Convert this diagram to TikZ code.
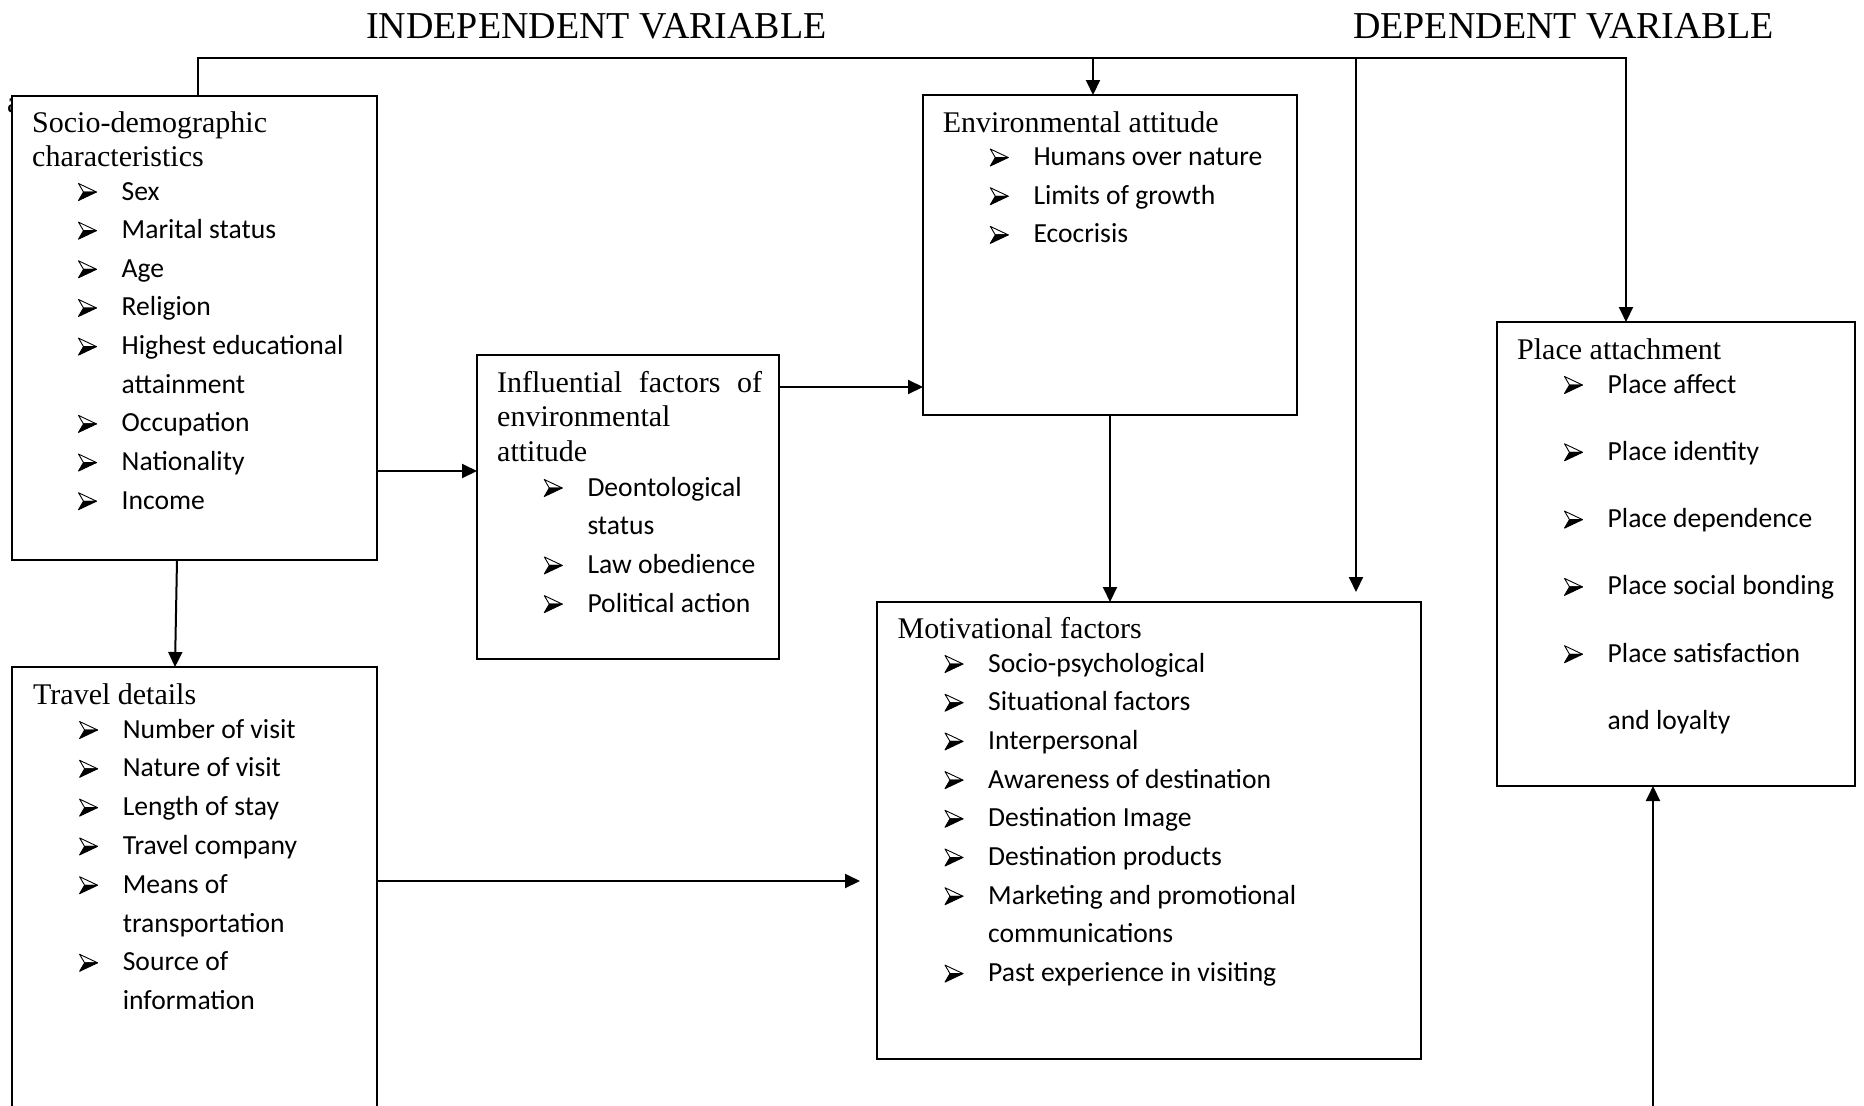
\documentclass[tikz,border=0pt]{standalone}
\usepackage{fontspec}
\setmainfont{Liberation Serif}
\newfontfamily\itemfamily{Carlito}
\usetikzlibrary{arrows.meta,calc}

% type sizes (1pt = one unit of the drawing grid)
\newcommand\titlefont{\fontsize{38}{42}\selectfont}
\newcommand\headfont{\fontsize{30}{34.5}\selectfont}
\newcommand\itemfont{\itemfamily\fontsize{27.6}{38.7}\selectfont}

\tikzset{
  box/.style={draw, line width=2pt, fill=white, rectangle, inner sep=0pt,
              outer sep=0pt, anchor=north west},
  conn/.style={line width=2pt},
  arr/.style={conn, -{Triangle[length=15pt,width=14pt]}},
  ttl/.style={anchor=base west, inner sep=0pt, font=\titlefont},
  head/.style={anchor=base west, inner sep=0pt, font=\headfont},
  itm/.style={anchor=base west, inner sep=0pt, font=\itemfont},
  % three-d arrowhead bullet, origin at its lower left on the baseline
  arrowbullet/.pic={
    \filldraw[fill=white, draw=black, line width=0.9pt, line join=round]
      (0,-17) -- (18,-8.5) -- (5,-8.5) -- cycle;
    \filldraw[black, line width=0.9pt, line join=round]
      (5,-8.5) -- (18,-8.5) -- (0,0) -- cycle;
  },
}

% a column of list lines: name, bullet x, first baseline, line step,
% lines given as b/text (with bullet) or c/text (continued line)
\newcommand\itemcolumn[5]{%
  \foreach [count=\k] \kind/\entry in {#5}{%
    \node[itm] (#1-\k) at ({#2+43},{#3+(\k-1)*#4}) {\entry};
    \if\kind b
      \pic at (#2,{#3+(\k-1)*#4+0.5}) {arrowbullet};
    \fi
  }}

\begin{document}
\begin{tikzpicture}[x=1pt, y=-1pt]
\useasboundingbox (0,0) rectangle (1864,1106);
\clip (0,0) rectangle (1864,1106);
\fill[white] (0,0) rectangle (1864,1106);

% column titles
\node[ttl] (indep) at (366,38) {INDEPENDENT VARIABLE};
\node[ttl] (dep) at (1353,38) {DEPENDENT VARIABLE};

% stray letter partly hidden behind the first box
\node[head] (stray) at (7,112) {a};

% boxes
\node[box, minimum width=365pt, minimum height=464pt] (socio) at (12,96) {};
\node[box, minimum width=365pt, minimum height=480pt] (travel) at (12,667) {};
\node[box, minimum width=302pt, minimum height=304pt] (infl) at (477,355) {};
\node[box, minimum width=374pt, minimum height=320pt] (env) at (923,95) {};
\node[box, minimum width=544pt, minimum height=457pt] (motiv) at (877,602) {};
\node[box, minimum width=358pt, minimum height=464pt] (place) at (1497,322) {};

% socio-demographic characteristics
\node[head] (socio-h1) at (32,132) {Socio-demographic};
\node[head] (socio-h2) at (32,166.5) {characteristics};
\itemcolumn{socio}{78.5}{200}{38.65}{b/Sex, b/Marital status, b/Age,
  b/Religion, b/Highest educational, c/attainment, b/Occupation,
  b/Nationality, b/Income}

% travel details
\node[head] (travel-h1) at (33,704) {Travel details};
\itemcolumn{travel}{79.6}{738}{38.8}{b/Number of visit, b/Nature of visit,
  b/Length of stay, b/Travel company, b/Means of, c/transportation,
  b/Source of, c/information}

% influential factors
\node[head] (infl-h1) at (497,392) {\makebox[265pt][s]{Influential factors of}};
\node[head] (infl-h2) at (497,426.5) {environmental};
\node[head] (infl-h3) at (497,461) {attitude};
\itemcolumn{infl}{544.3}{496}{38.7}{b/Deontological, c/status,
  b/Law obedience, b/Political action}

% environmental attitude
\node[head] (env-h1) at (942.7,132) {Environmental attitude};
\itemcolumn{env}{990.3}{165.5}{38.7}{b/Humans over nature,
  b/Limits of growth, b/Ecocrisis}

% motivational factors
\node[head] (motiv-h1) at (897.5,638) {Motivational factors};
\itemcolumn{motiv}{945}{672}{38.7}{b/Socio-psychological,
  b/Situational factors, b/Interpersonal, b/Awareness of destination,
  b/Destination Image, b/Destination products,
  b/Marketing and promotional, c/communications,
  b/Past experience in visiting}

% place attachment
\node[head] (place-h1) at (1517,359.5) {Place attachment};
\itemcolumn{place}{1564.5}{393}{67.3}{b/Place affect, b/Place identity,
  b/Place dependence, b/Place social bonding, b/Place satisfaction,
  c/and loyalty}

% common feed line over the top
\coordinate (busL) at (198,58);
\coordinate (busE) at (1093,58);
\coordinate (busM) at (1356,58);
\coordinate (busR) at (1626,58);
\draw[arr] (socio.north -| busL) -- (busL) -- (busR) -- (place.north -| busR);
\draw[arr] (busE) -- (env.north -| busE);
\draw[arr, shorten >=10pt] (busM) -- (motiv.north -| busM);

% links between the boxes
\draw[arr] ($(socio.south west)+(165,0)$) -- ($(travel.north west)+(163,0)$);
\draw[arr] (socio.east |- 0,471) -- (infl.west |- 0,471);
\draw[arr] (infl.east |- 0,387) -- (env.west |- 0,387);
\draw[arr] (env.south) -- (motiv.north -| env.south);
\draw[arr, shorten >=17pt] (travel.east |- 0,881) -- (motiv.west |- 0,881);

% feed rising from below into place attachment
\coordinate (feed) at (1653,1112);
\draw[arr] (feed) -- (place.south -| feed);
\end{tikzpicture}
\end{document}
